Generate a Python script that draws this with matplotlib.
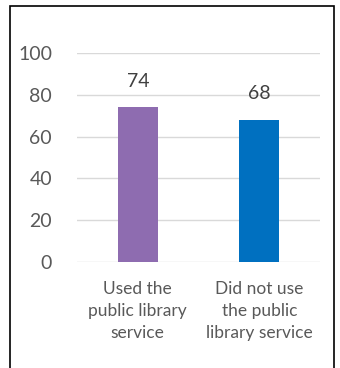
import matplotlib
matplotlib.use("Agg")
import matplotlib.pyplot as plt
from matplotlib.patches import Rectangle

categories = ["Used the\npublic library\nservice", "Did not use\nthe public\nlibrary service"]
values = [74, 68]
colors = ["#8E6CB0", "#0070C0"]
yticks = [0, 20, 40, 60, 80, 100]

W, H = 340, 368
fig = plt.figure(figsize=(W/100, H/100), dpi=100)
plt.rcParams['font.family'] = ['Lato', 'DejaVu Sans']

x0, x1 = 77, 320
y0, y100 = 262, 53
ax = fig.add_axes([x0/W, 1 - y0/H, (x1-x0)/W, (y0-y100)/H])
ax.set_xlim(-0.5, 1.5)
ax.set_ylim(0, 100)
bars = ax.bar(range(len(values)), values, width=0.33, color=colors, zorder=3)
for i, v in enumerate(values):
    ax.text(i, v + 8.5, str(v), ha='center', va='bottom', fontsize=14, color='#404040')
ax.set_yticks(yticks)
ax.set_yticklabels([str(t) for t in yticks], fontsize=14, color='#595959')
ax.set_xticks(range(len(categories)))
ax.set_xticklabels(categories, fontsize=12.5, color='#595959', linespacing=1.45)
ax.tick_params(axis='both', length=0)
ax.tick_params(axis='y', pad=18)
ax.tick_params(axis='x', pad=14)
ax.grid(axis='y', color='#D9D9D9', linewidth=1, zorder=0)
for s in ax.spines.values():
    s.set_visible(False)

border = Rectangle((9.5/W, -0.1), (333.5-9.5)/W, 1 - 5.5/H + 0.1, transform=fig.transFigure,
                   fill=False, edgecolor='black', linewidth=1.2)
fig.patches.append(border)

fig.savefig("out.png", dpi=100)
